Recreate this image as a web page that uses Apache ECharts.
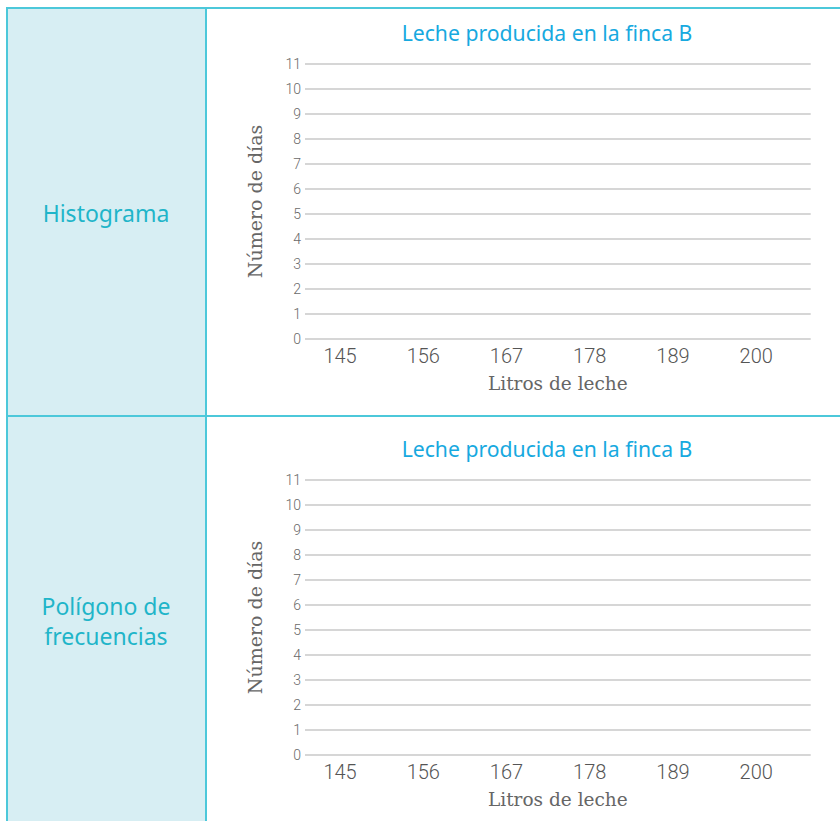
<!DOCTYPE html>
<html>
<head>
<meta charset="utf-8">
<script src="https://cdn.jsdelivr.net/npm/echarts@6/dist/echarts.min.js"></script>
<style>
html,body{margin:0;padding:0;background:#fff;}
#c{width:840px;height:821px;}
</style>
</head>
<body>
<div id="c"></div>
<script>
// ---- data ----
const chartTitle = 'Leche producida en la finca B';
const rowLabels = [['Histograma'], ['Polígono de', 'frecuencias']];
const xTickLabels = [145, 156, 167, 178, 189, 200];
const yTickValues = [0, 1, 2, 3, 4, 5, 6, 7, 8, 9, 10, 11];
const xAxisName = 'Litros de leche';
const yAxisName = 'Número de días';
const histogramValues = [];   // empty template: no values drawn
const polygonValues = [];     // empty template: no values drawn

const border = '#4cc8da';
const cellBg = '#d7eef3';
const labelColor = '#1fb5c9';
const titleColor = '#17a9df';
const gridTop = [64, 480];
const gridH = 275;

function makeX(i) {
  return {
    gridIndex: i, type: 'value', min: 140.37, max: 207.2,
    axisLine: {show: false}, axisTick: {show: false}, splitLine: {show: false},
    axisLabel: {customValues: xTickLabels, fontSize: 20, color: '#555', fontFamily: 'Roboto', fontWeight: 300, margin: 7},
    name: xAxisName, nameLocation: 'middle', nameGap: 35,
    nameTextStyle: {fontFamily: 'DejaVu Serif', fontSize: 18.5, color: '#666'}
  };
}
function makeY(i) {
  return {
    gridIndex: i, type: 'value', min: yTickValues[0], max: yTickValues[yTickValues.length - 1], interval: 1,
    axisLine: {show: false}, axisTick: {show: false},
    splitLine: {show: true, lineStyle: {color: '#c9c9c9', width: 1.5}},
    axisLabel: {fontSize: 14, color: '#6a6a6a', fontFamily: 'Roboto', fontWeight: 300, margin: 4},
    name: yAxisName, nameLocation: 'middle', nameGap: 41, nameRotate: 90,
    nameTextStyle: {fontFamily: 'DejaVu Serif', fontSize: 19, color: '#666'}
  };
}

const labelCenters = [[213], [606, 636]];
const labelGraphics = [];
rowLabels.forEach((lines, r) => lines.forEach((t, k) => labelGraphics.push({
  type: 'text',
  style: {text: t, x: 106, y: labelCenters[r][k], align: 'center', verticalAlign: 'middle', fill: labelColor, font: '23px "Noto Sans"', lineHeight: 24}
})));

const chart = echarts.init(document.getElementById('c'), null, {renderer: 'svg'});
chart.setOption({
  animation: false,
  title: [0, 1].map(i => ({
    text: chartTitle, left: 542, top: 17 + i * 416, textAlign: 'center',
    textStyle: {fontFamily: 'Noto Sans', fontWeight: 'normal', fontSize: 21.2, color: titleColor}
  })),
  grid: [0, 1].map(i => ({left: 305, right: 29.3, top: gridTop[i], height: gridH})),
  xAxis: [makeX(0), makeX(1)],
  yAxis: [makeY(0), makeY(1)],
  series: [
    {type: 'bar', xAxisIndex: 0, yAxisIndex: 0, data: histogramValues},
    {type: 'line', xAxisIndex: 1, yAxisIndex: 1, data: polygonValues}
  ],
  graphic: [
    {type: 'rect', z: -10, shape: {x: 7, y: 8, width: 199, height: 813}, style: {fill: cellBg}},
    {type: 'line', shape: {x1: 7, y1: 8, x2: 840, y2: 8}, style: {stroke: border, lineWidth: 2}},
    {type: 'line', shape: {x1: 7, y1: 7, x2: 7, y2: 821}, style: {stroke: border, lineWidth: 2}},
    {type: 'line', shape: {x1: 206, y1: 7, x2: 206, y2: 821}, style: {stroke: border, lineWidth: 2}},
    {type: 'line', shape: {x1: 7, y1: 416, x2: 840, y2: 416}, style: {stroke: border, lineWidth: 2}}
  ].concat(labelGraphics)
});
</script>
</body>
</html>
